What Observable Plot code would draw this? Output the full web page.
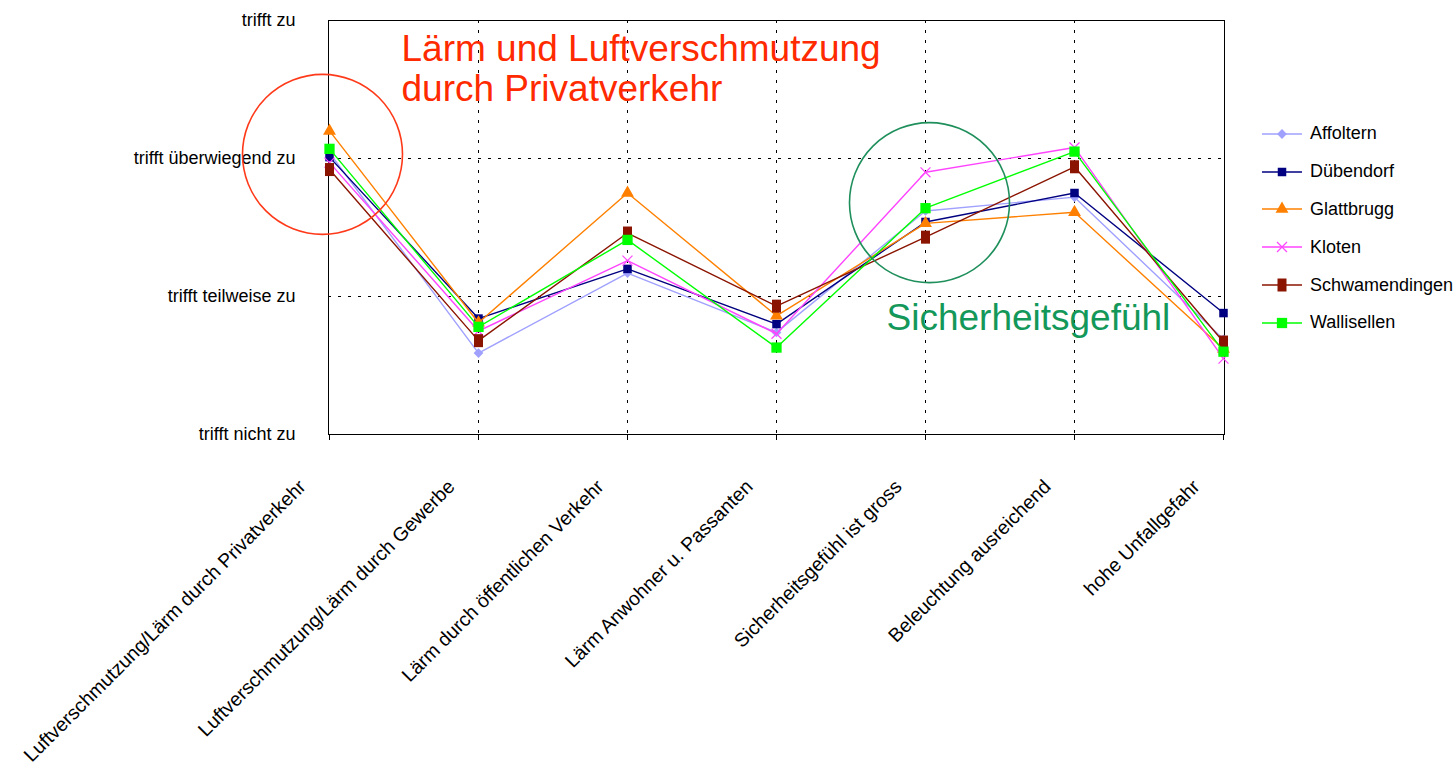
<!DOCTYPE html>
<html>
<head>
<meta charset="utf-8">
<script src="https://cdn.jsdelivr.net/npm/d3@7"></script>
<script src="https://cdn.jsdelivr.net/npm/@observablehq/plot@0.6"></script>
<style>
  html, body { margin: 0; padding: 0; background: #fff; }
  #wrap { position: relative; width: 1456px; height: 784px; font-family: "Liberation Sans", Arial, sans-serif; }
  #legend { position: absolute; left: 1262px; top: 115px; }
  .item { display: flex; align-items: center; height: 37.8px; font-size: 18px; color: #000; }
  .item svg { margin-right: 8px; }
</style>
</head>
<body>
<div id="wrap"><div id="legend"></div></div>
<script>
const categories = [
  "Luftverschmutzung/Lärm durch Privatverkehr",
  "Luftverschmutzung/Lärm durch Gewerbe",
  "Lärm durch öffentlichen Verkehr",
  "Lärm Anwohner u. Passanten",
  "Sicherheitsgefühl ist gross",
  "Beleuchtung ausreichend",
  "hohe Unfallgefahr"
];
const seriesNames = ["Affoltern", "Dübendorf", "Glattbrugg", "Kloten", "Schwamendingen", "Wallisellen"];
const affoltern      = [3.04, 1.59, 2.17, 1.74, 2.62, 2.72, 1.69];
const duebendorf     = [3.01, 1.84, 2.20, 1.80, 2.54, 2.75, 1.88];
const glattbrugg     = [3.20, 1.81, 2.75, 1.86, 2.53, 2.61, 1.62];
const kloten         = [2.97, 1.75, 2.26, 1.73, 2.90, 3.08, 1.55];
const schwamendingen = [2.92, 1.68, 2.46, 1.93, 2.43, 2.94, 1.67];
const wallisellen    = [3.07, 1.78, 2.41, 1.63, 2.64, 3.05, 1.60];
const yTicks = [1, 2, 3, 4];
const yTickLabels = ["trifft nicht zu", "trifft teilweise zu", "trifft überwiegend zu", "trifft zu"];
const annotationTexts = ["Lärm und Luftverschmutzung\ndurch Privatverkehr", "Sicherheitsgefühl"];
const annotationCats = [0, 4];
const annotationY = [3.655, 1.855];
const annotationColors = ["#ff2a00", "#13985a"];
const circleCats = [0, 4];
const circleY = [3.03, 2.68];
const circleColors = ["#ff3a1a", "#1f8f5c"];

const values = [affoltern, duebendorf, glattbrugg, kloten, schwamendingen, wallisellen];

// custom tall rectangle symbol
const tallRect = {draw(ctx, size) { const w = 4.5, h = 6.5; ctx.moveTo(-w, -h); ctx.lineTo(w, -h); ctx.lineTo(w, h); ctx.lineTo(-w, h); ctx.closePath(); }};

const styles = {
  "Affoltern":      {color: "#a0a0ff", symbol: "diamond2", r: 4.4, fill: true},
  "Dübendorf":      {color: "#000080", symbol: "square", r: 4.8, fill: true},
  "Glattbrugg":     {color: "#ff8000", symbol: "triangle", r: 4.8, fill: true},
  "Kloten":         {color: "#ff44ff", symbol: "times", r: 4.6, fill: false},
  "Schwamendingen": {color: "#8a1400", symbol: tallRect, r: 5, fill: true},
  "Wallisellen":    {color: "#00ff00", symbol: "square", r: 5.8, fill: true}
};

const rows = [];
seriesNames.forEach((s, i) => values[i].forEach((v, j) => rows.push({series: s, cat: categories[j], value: v})));

const marks = [
  Plot.gridY([2, 3], {stroke: "#000", strokeOpacity: 1, strokeDasharray: "3,7", strokeWidth: 1}),
  Plot.gridX(categories.slice(1, 6), {stroke: "#000", strokeOpacity: 1, strokeDasharray: "3,7", strokeWidth: 1}),
  Plot.frame({stroke: "#000", strokeWidth: 1}),
  Plot.axisY({ticks: yTicks, tickFormat: d => yTickLabels[yTicks.indexOf(d)], tickSize: 0, tickPadding: 33, fontSize: 18, label: null}),
  Plot.axisX({tickSize: 6, tickFormat: () => "", label: null}),
  Plot.text(categories, {x: d => d, frameAnchor: "bottom", rotate: -45, textAnchor: "end", lineAnchor: "middle", dx: -27, dy: 49, fontSize: 19.5})
];

for (const s of seriesNames) {
  const st = styles[s];
  const data = rows.filter(d => d.series === s);
  marks.push(Plot.line(data, {x: "cat", y: "value", stroke: st.color, strokeWidth: 1.4}));
  marks.push(Plot.dot(data, {x: "cat", y: "value", symbol: () => st.symbol, r: st.r,
    fill: st.fill ? st.color : "none", stroke: st.fill ? "none" : st.color, strokeWidth: 1.2}));
}

const circleDx = [-7, 4];
circleCats.forEach((c, i) => {
  marks.push(Plot.dot([i], {x: () => categories[c], y: () => circleY[i], r: 80, fill: "none", stroke: circleColors[i], strokeWidth: 1.6, dx: circleDx[i]}));
});
const textDx = [72, -39];
annotationCats.forEach((c, i) => {
  marks.push(Plot.text([i], {x: () => categories[c], y: () => annotationY[i], text: () => annotationTexts[i], fill: annotationColors[i],
    textAnchor: "start", lineAnchor: "middle", lineHeight: 1.1, fontSize: 37, dx: textDx[i]}));
});

const plot = Plot.plot({
  width: 1456,
  height: 784,
  marginLeft: 328,
  marginRight: 232,
  marginTop: 20,
  marginBottom: 350,
  style: {fontFamily: "'Liberation Sans', Arial, sans-serif", fontSize: "18px", color: "#000", background: "#fff"},
  x: {type: "point", domain: categories, padding: 0},
  y: {domain: [1, 4]},
  marks
});

document.getElementById("wrap").prepend(plot);

// legend
const legend = document.getElementById("legend");
const symMap = {diamond2: d3.symbolDiamond2, square: d3.symbolSquare, triangle: d3.symbolTriangle, times: d3.symbolTimes};
for (const s of seriesNames) {
  const st = styles[s];
  const type = typeof st.symbol === "string" ? symMap[st.symbol] : st.symbol;
  const sym = d3.symbol().type(type).size(Math.PI * st.r * st.r)();
  const div = document.createElement("div");
  div.className = "item";
  div.innerHTML = `<svg width="40" height="18" viewBox="0 0 40 18"><line x1="0" x2="40" y1="9" y2="9" stroke="${st.color}" stroke-width="1.4"/><path transform="translate(20,9)" d="${sym}" fill="${st.fill ? st.color : "none"}" stroke="${st.fill ? "none" : st.color}" stroke-width="1.2"/></svg><span>${s}</span>`;
  legend.appendChild(div);
}
</script>
</body>
</html>
